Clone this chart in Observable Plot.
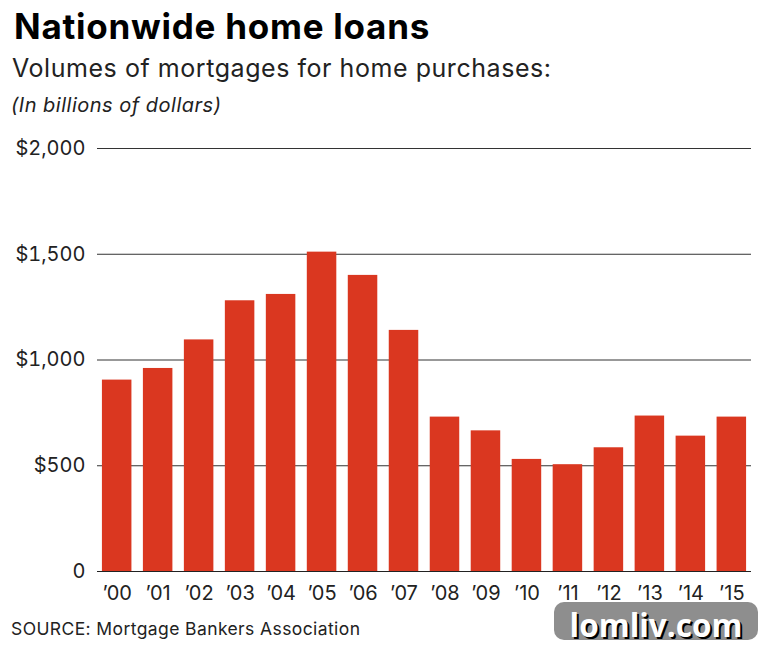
<!DOCTYPE html>
<html><head><meta charset="utf-8">
<script src="https://cdn.jsdelivr.net/npm/d3@7"></script>
<script src="https://cdn.jsdelivr.net/npm/@observablehq/plot@0.6"></script>
<style>
html,body{margin:0;padding:0;background:#fff;width:760px;height:648px;overflow:hidden;font-family:Inter,sans-serif;color:#111}
#wrap{position:relative;width:760px;height:648px}
.t{position:absolute;white-space:nowrap}
#title{left:14px;top:5px;font:700 35px Inter,sans-serif;color:#000;letter-spacing:.75px}
#sub{left:12px;top:53px;font:400 25px Inter,sans-serif;color:#222;letter-spacing:.55px}
#unit{left:11px;top:93px;font:italic 400 20px Inter,sans-serif;color:#222;letter-spacing:.5px}
#src{left:11px;top:618px;font:400 17.5px Inter,sans-serif;color:#222;letter-spacing:.4px}
#chart{position:absolute;left:0;top:130px}
#badge{position:absolute;left:554px;top:602px;width:204px;height:38px;border-radius:10px;background:#8e8e8e;color:#fff;font:700 31.5px "Open Sans",sans-serif;text-align:center;line-height:46px;text-shadow:2px 2px 0 #000}
</style></head><body><div id="wrap">
<div class="t" id="title">Nationwide home loans</div>
<div class="t" id="sub">Volumes of mortgages for home purchases:</div>
<div class="t" id="unit">(In billions of dollars)</div>
<div id="chart"></div>
<div class="t" id="src">SOURCE: Mortgage Bankers Association</div>
<div id="badge">lomliv.com</div>
</div>
<script>
const years=["’00","’01","’02","’03","’04","’05","’06","’07","’08","’09","’10","’11","’12","’13","’14","’15"];
const volumes=[905,960,1095,1280,1310,1510,1400,1140,730,665,530,505,585,735,640,730];
const yTicks=[0,500,1000,1500,2000];
const rows=years.map((y,i)=>({y,v:volumes[i]}));
const fmt=d=>d===0?"0":"$"+d3.format(",")(d);
document.getElementById("chart").append(Plot.plot({
 width:760,height:480,marginTop:18,marginBottom:39,marginLeft:97,marginRight:9,
 style:{background:"transparent",fontFamily:"Inter,sans-serif",fontSize:"20px",color:"#222",overflow:"visible"},
 x:{domain:years,paddingInner:0.28,paddingOuter:0.12,align:0.5,round:false,label:null,tickSize:0,tickPadding:14},
 y:{domain:[0,2000],ticks:yTicks,label:null,tickSize:0,tickPadding:12,tickFormat:fmt},
 marks:[
  Plot.ruleY(yTicks,{stroke:"#333",strokeWidth:1}),
  Plot.barY(rows,{x:"y",y:"v",fill:"#da3720"}),
  Plot.ruleY([0],{stroke:"#222",strokeWidth:1})
 ]}));
</script></body></html>
